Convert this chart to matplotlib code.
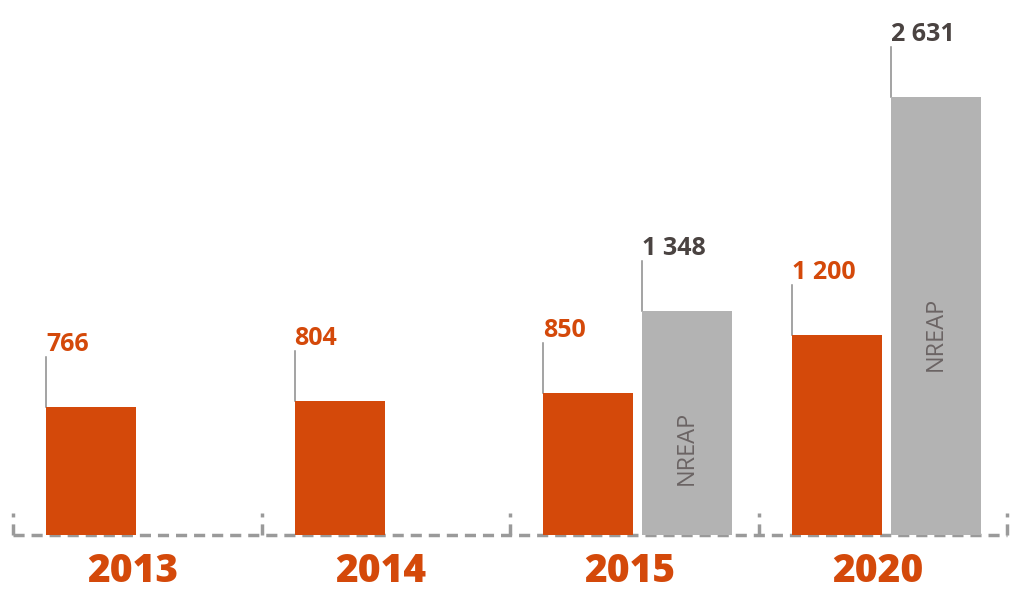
import matplotlib
matplotlib.use("Agg")
import matplotlib.pyplot as plt

plt.rcParams['font.family'] = ['Open Sans', 'DejaVu Sans']

# ========== 数据 ==========
years = ["2013", "2014", "2015", "2020"]
actual = [766, 804, 850, 1200]
nreap = [None, None, 1348, 2631]
nreap_label_frac = [None, None, 0.39, 0.46]


def fmt(v):
    return f"{v:,}".replace(",", " ")


ORANGE = "#D4490A"
GREY = "#B3B3B3"
DARK = "#4A4341"
AXIS = "#9A9A9A"

fig = plt.figure(figsize=(10.24, 5.91), dpi=100)
ax = fig.add_axes([0, 0, 1, 1])

# px -> 数据: 每组 248.5 px, 基线在 y=535, 0.1665 px/单位
px_per_grp = 248.5
px_per_val = 0.1665
ax.set_xlim(-13 / px_per_grp, (1024 - 13) / px_per_grp)
ax.set_ylim(-(591 - 535) / px_per_val, 535 / px_per_val)
ax.axis('off')

bar_w = 90 / px_per_grp
off_a = 33 / px_per_grp
off_n = 132 / px_per_grp
lead = 50 / px_per_val

for i, yr in enumerate(years):
    xa = i + off_a
    ax.bar(xa, actual[i], width=bar_w, align='edge', color=ORANGE, zorder=2)
    ax.plot([xa, xa], [actual[i], actual[i] + lead], color="#8a8a8a", lw=1.1, zorder=1)
    ax.text(xa, actual[i] + lead, fmt(actual[i]), color=ORANGE, fontsize=18,
            fontweight='bold', ha='left', va='bottom')

    if nreap[i] is not None:
        xn = i + off_n
        ax.bar(xn, nreap[i], width=bar_w, align='edge', color=GREY, zorder=2)
        ax.plot([xn, xn], [nreap[i], nreap[i] + lead], color="#8a8a8a", lw=1.1, zorder=1)
        ax.text(xn, nreap[i] + lead, fmt(nreap[i]), color=DARK, fontsize=18,
                fontweight='bold', ha='left', va='bottom')
        ax.text(xn + bar_w / 2, nreap[i] * nreap_label_frac[i], "NREAP", color="#6b6464",
                fontsize=17, rotation=90, ha='center', va='center', zorder=3)

    ax.text(i + 0.48, -36 / px_per_val, yr, color=ORANGE, fontsize=28,
            fontweight='heavy', ha='center', va='center')

# 虚线基线和分隔刻度
ax.plot([0, len(years)], [0, 0], color=AXIS, lw=2.5, ls=(0, (3.2, 2)), zorder=1)
for i in range(len(years) + 1):
    ax.plot([i, i], [0, 22 / px_per_val], color=AXIS, lw=2.5, ls=(0, (3.2, 2)), zorder=1)

plt.savefig("out.png", dpi=100)
plt.close()
